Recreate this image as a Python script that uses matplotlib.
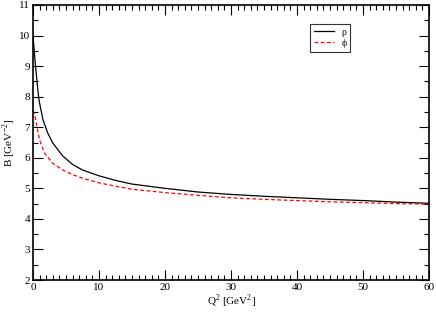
import matplotlib
matplotlib.use("Agg")
import matplotlib.pyplot as plt
from matplotlib.ticker import MultipleLocator

# values
q2_rho = [0, 0.3, 0.6, 0.9, 1.5, 2.25, 3, 4.5, 6, 7.5, 10, 12.5, 15, 20, 25, 30, 35, 40, 45, 50, 55, 60]
b_rho = [10.0, 9.2, 8.5, 7.9, 7.25, 6.8, 6.48, 6.06, 5.78, 5.6, 5.41, 5.26, 5.14, 5.0,
         4.88, 4.8, 4.74, 4.69, 4.64, 4.6, 4.55, 4.51]
q2_phi = [0, 0.25, 0.5, 1, 1.75, 3, 4.5, 6, 7.5, 10, 12.5, 15, 20, 25, 30, 35, 40, 45, 50, 55, 60]
b_phi = [7.55, 7.42, 7.13, 6.58, 6.15, 5.82, 5.6, 5.45, 5.33, 5.18, 5.07, 4.97, 4.86,
         4.77, 4.69, 4.64, 4.6, 4.56, 4.53, 4.5, 4.48]

plt.rcParams['font.family'] = ['Liberation Serif', 'DejaVu Serif']
plt.rcParams['mathtext.fontset'] = 'custom'
plt.rcParams['mathtext.rm'] = 'Liberation Serif'

fig = plt.figure(figsize=(4.36, 3.13), dpi=100)
ax = fig.add_axes([33 / 436, 1 - 280 / 313, 396 / 436, 275 / 313])

ax.plot(q2_rho, b_rho, color='black', lw=0.9, label='ρ')
ax.plot(q2_phi, b_phi, color='red', lw=0.9, ls=(0, (3, 2)), label='ϕ')

ax.set_xlim(0, 60)
ax.set_ylim(2, 11)
ax.xaxis.set_major_locator(MultipleLocator(10))
ax.xaxis.set_minor_locator(MultipleLocator(1))
ax.yaxis.set_major_locator(MultipleLocator(1))
ax.yaxis.set_minor_locator(MultipleLocator(0.5))
ax.tick_params(which='both', direction='in', top=True, right=True, labelsize=8, width=0.8, pad=2)
ax.tick_params(which='major', length=7)
ax.tick_params(which='minor', length=3.5)
for s in ax.spines.values():
    s.set_linewidth(1.2)

ax.set_xlabel(r'Q$^{2}$ [GeV$^{2}$]', fontsize=8, labelpad=1)
ax.set_ylabel(r'B [GeV$^{-2}$]', fontsize=8, labelpad=1)

leg = ax.legend(loc='upper left', bbox_to_anchor=(0.70, 0.931), fontsize=7, frameon=True,
                fancybox=False, handlelength=2.0, handletextpad=0.8, borderpad=0.4,
                labelspacing=0.2, borderaxespad=0)
leg.get_frame().set_edgecolor('black')
leg.get_frame().set_linewidth(0.8)

fig.savefig('out.png', dpi=100)
